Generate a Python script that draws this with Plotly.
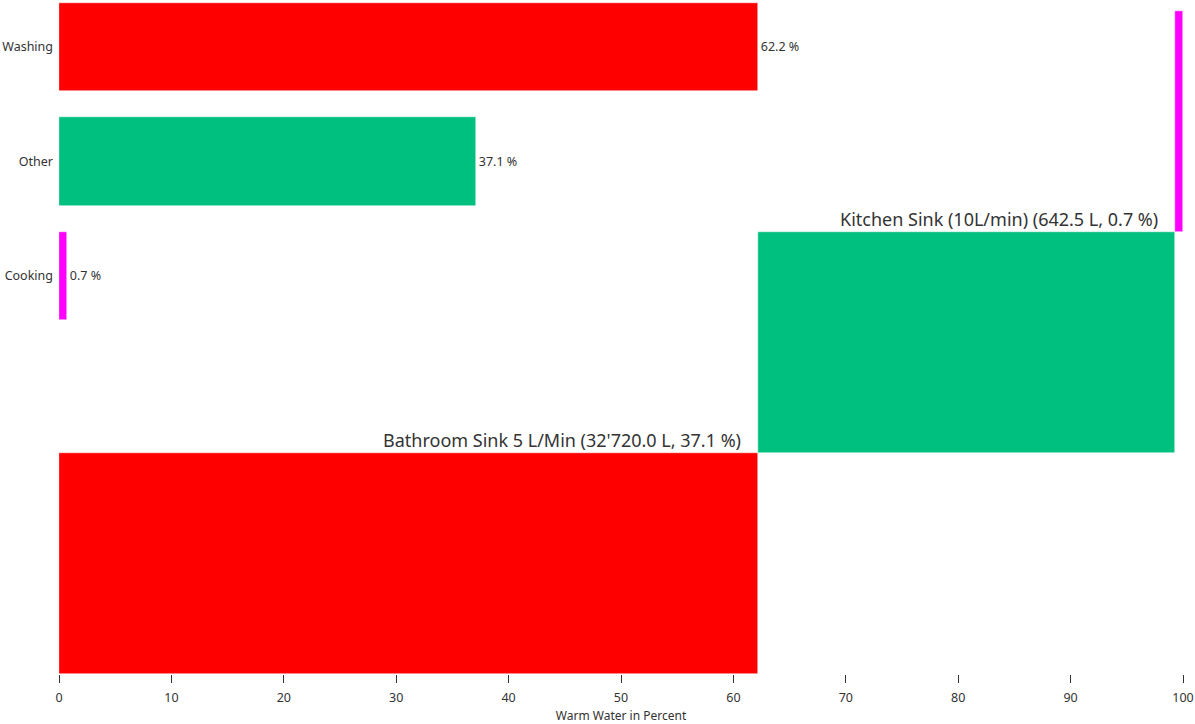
import plotly.graph_objects as go
import numpy as np

categories = ["Washing", "Other", "Cooking"]
shares = [62.2, 37.1, 0.7]
colors = ["#FF0000", "#00C080", "#FF00FF"]
mosaic_labels = ["Bathroom Sink 5 L/Min (32'720.0 L, 37.1 %)",
                 "Kitchen Sink (10L/min) (642.5 L, 0.7 %)"]
x_ticks = list(range(0, 101, 10))

FONT = "Segoe UI, Noto Sans, Open Sans, sans-serif"
TXT = "#333333"

fig = go.Figure()

# Category bars (top-left)
fig.add_trace(go.Bar(
    y=categories, x=shares, orientation="h",
    marker=dict(color=colors, line=dict(color="white", width=0.5)),
    width=0.77,
    text=[f"{v} %" for v in shares], textposition="outside",
    textfont=dict(size=12.5, color=TXT, family=FONT),
    cliponaxis=False, yaxis="y", showlegend=False, hoverinfo="skip",
))

# Mosaic / staircase bars
bases = np.concatenate([[0], np.cumsum(shares)[:-1]])
levels = np.arange(len(shares)) + 0.5
fig.add_trace(go.Bar(
    y=levels, x=shares, base=bases, orientation="h",
    marker=dict(color=colors, line=dict(color="white", width=0.5)),
    width=1.0, yaxis="y2", showlegend=False, hoverinfo="skip",
))

ends = np.cumsum(shares)
for i, lab in enumerate(mosaic_labels):
    fig.add_annotation(
        x=ends[i], y=i + 1, xref="x", yref="y2",
        text=lab, showarrow=False, xanchor="right", yanchor="bottom",
        xshift=-15, yshift=-1,
        font=dict(size=18, color=TXT, family=FONT),
    )

fig.update_layout(
    width=1195, height=724,
    margin=dict(l=59, r=12, t=0, b=50, autoexpand=False),
    plot_bgcolor="white", paper_bgcolor="white",
    bargap=0,
    font=dict(family=FONT, color=TXT, size=13),
    xaxis=dict(
        range=[0, 100], tickvals=x_ticks, ticks="outside", ticklen=8,
        tickcolor="#333333", tickwidth=1, showgrid=False, zeroline=False,
        showline=False, automargin=False, ticklabelstandoff=4,
        tickfont=dict(size=12.5, color=TXT, family=FONT),
        title=dict(text="Warm Water in Percent", standoff=6,
                   font=dict(size=12, color=TXT, family=FONT)),
    ),
    yaxis=dict(
        type="category", categoryorder="array",
        categoryarray=["Cooking", "Other", "Washing"],
        range=[-3.476, 2.41], showgrid=False, zeroline=False,
        showline=False, ticks="", automargin=False, ticklabelstandoff=5,
        tickfont=dict(size=12.5, color=TXT, family=FONT),
    ),
    yaxis2=dict(
        overlaying="y", range=[0, 674 / 221], visible=False,
        showgrid=False, zeroline=False, automargin=False,
    ),
)

fig.write_html(
    "out.html",
    config={"displayModeBar": False},
    post_script="document.body.style.margin='0';document.body.style.overflow='hidden';",
)
